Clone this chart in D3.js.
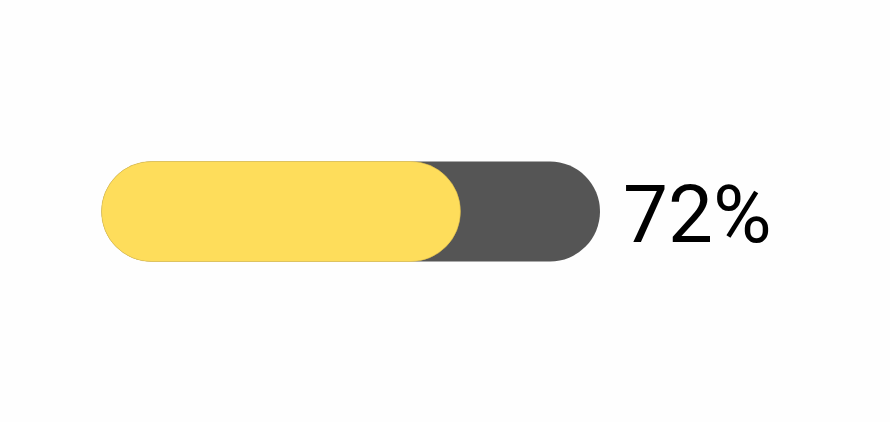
<!DOCTYPE html>
<html>
<head>
<meta charset="utf-8">
<script src="https://cdn.jsdelivr.net/npm/d3@7"></script>
<style>
  html, body { margin: 0; padding: 0; background: #fefefe; }
</style>
</head>
<body>
<svg id="chart" width="890" height="422"></svg>
<script>
// progress values
const labels = ['progress'];
const values = [72];
const domainMax = [100];

const svg = d3.select('#chart');

const barHeight = 100;
const barTop = 161.5;

// horizontal scale for the bar
const x = d3.scaleLinear()
    .domain([0, domainMax[0]])
    .range([101.5, 600]);

const r = barHeight / 2;

// background track
svg.append('rect')
    .attr('x', x(0))
    .attr('y', barTop)
    .attr('width', x(domainMax[0]) - x(0))
    .attr('height', barHeight)
    .attr('rx', r)
    .attr('ry', r)
    .attr('fill', '#555555');

// filled part
svg.selectAll('rect.fill')
    .data(values)
    .enter().append('rect')
    .attr('class', 'fill')
    .attr('x', x(0))
    .attr('y', barTop)
    .attr('width', d => x(d) - x(0))
    .attr('height', barHeight)
    .attr('rx', r)
    .attr('ry', r)
    .attr('fill', '#fedd5b')
    .attr('stroke', '#e6c24a')
    .attr('stroke-width', 0.6);

// percentage label
svg.selectAll('text.pct')
    .data(values)
    .enter().append('text')
    .attr('class', 'pct')
    .attr('x', x(domainMax[0]) + 23)
    .attr('y', 242)
    .style('font-family', 'Roboto, sans-serif')
    .style('font-size', '80px')
    .style('fill', '#000')
    .text(d => d + '%');
</script>
</body>
</html>
